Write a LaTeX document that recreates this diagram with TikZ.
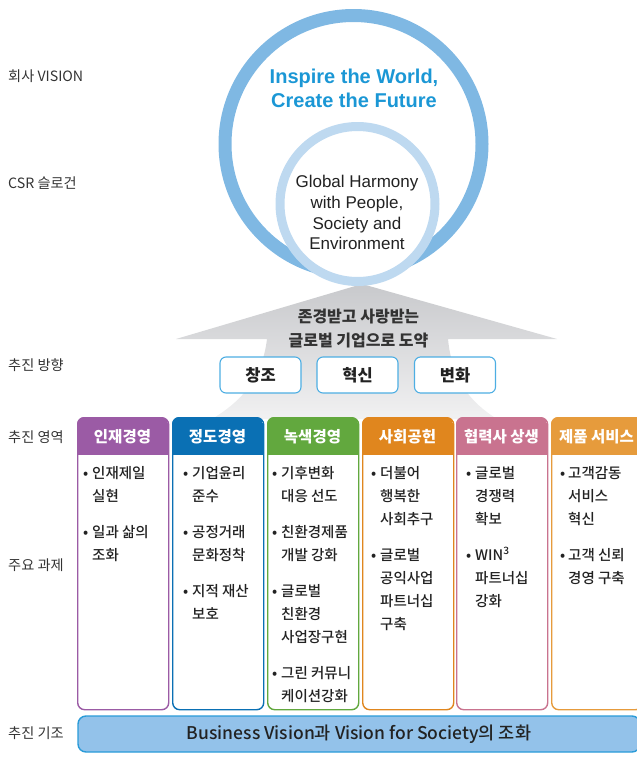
\documentclass[tikz,border=0pt]{standalone}
\usepackage{fontspec}
\setmainfont{Noto Sans CJK KR}
\newfontfamily\medfont{Noto Sans CJK KR Medium}
\newfontfamily\latfont{Liberation Sans}
\definecolor{ringdark}{HTML}{7FB8E3}
\definecolor{ringlight}{HTML}{BED9F0}
\definecolor{vision}{HTML}{1B97D5}
\definecolor{txt}{HTML}{222222}
\definecolor{lbl}{HTML}{333333}
\definecolor{cpurple}{HTML}{9B5BA5}
\definecolor{cblue}{HTML}{0A70B4}
\definecolor{cgreen}{HTML}{62A83E}
\definecolor{corange}{HTML}{E0861E}
\definecolor{cpink}{HTML}{C9738F}
\definecolor{clorange}{HTML}{E69B3C}
\definecolor{boxline}{HTML}{4DAEE3}
\definecolor{barfill}{HTML}{93C2EA}
\definecolor{barline}{HTML}{2A9BD8}
\definecolor{arrtop}{HTML}{C8C9CC}
\definecolor{arrbot}{HTML}{F1F1F2}
\tikzset{
  lefttext/.style={anchor=west, inner sep=0pt, text=lbl, font=\fontsize{14.2}{16}\selectfont},
  dirbox/.style={draw=boxline, line width=1.1pt, rounded corners=6pt, fill=white,
    minimum width=81pt, minimum height=36pt, inner sep=0pt, text=txt,
    font=\bfseries\fontsize{16.5}{19}\selectfont},
  colbox/.style={minimum width=91pt, minimum height=292pt, rounded corners=7pt,
    line width=1.4pt, fill=white, inner sep=0pt},
  headtext/.style={text=white, inner sep=0pt, font=\bfseries\fontsize{15.5}{18}\selectfont},
  bodytext/.style={anchor=base west, inner sep=0pt, text=txt, font=\medfont\fontsize{14.5}{23}\selectfont},
  vistext/.style={anchor=base, inner sep=0pt, text=vision, font=\latfont\bfseries\fontsize{20}{24}\selectfont},
  slogtext/.style={anchor=base, inner sep=0pt, text=txt, font=\latfont\fontsize{17}{21}\selectfont},
  arrtext/.style={anchor=base, inner sep=0pt, text=lbl, font=\bfseries\fontsize{16}{20}\selectfont}
}
\newcommand\pillar[4]{%
  \pgfmathsetmacro\pxr{#2+91}%
  \pgfmathsetmacro\pxc{#2+45.5}%
  \node[colbox, draw=#3, anchor=north west] (#1) at (#2,417) {};
  \begin{scope}
    \clip[rounded corners=7pt] (#2,417) rectangle (\pxr,709);
    \fill[#3] (#2,417) rectangle (\pxr,455);
  \end{scope}
  \node[headtext] (#1h) at (\pxc,436.5) {#4};
}
\newcommand\bl[4]{\node[bodytext] (#1) at (#2,#3) {#4};}
\newcommand\bu[3]{\node[bodytext] (#1) at (#2,#3) {•};}
\begin{document}
\begin{tikzpicture}[x=1pt,y=-1pt]
\useasboundingbox (0,0) rectangle (637,758);
% gray arrow
\shade[top color=arrtop, bottom color=arrbot]
  (362,284) -- (557,339) -- (448,339)
  .. controls (452,380) and (470,402) .. (497,419)
  -- (212,419)
  .. controls (240,402) and (262,380) .. (267,339)
  -- (176,339) -- cycle;
% circles
\node[circle, draw=ringdark, line width=13pt, minimum size=257pt, inner sep=0pt] (visionring) at (353.5,144) {};
\node[circle, draw=ringlight, fill=white, line width=9pt, minimum size=155pt, inner sep=0pt] (sloganring) at (357.5,204) {};
\node[vistext] (vis1) at (354,83) {Inspire the World,};
\node[vistext] (vis2) at (354,107) {Create the Future};
\node[slogtext] (slo1) at (357,187) {Global Harmony};
\node[slogtext] (slo2) at (357,208) {with People,};
\node[slogtext] (slo3) at (357,229) {Society and};
\node[slogtext] (slo4) at (357,249) {Environment};
% arrow text
\node[arrtext] (goal1) at (358.5,322) {존경받고 사랑받는};
\node[arrtext] (goal2) at (358.5,346) {글로벌 기업으로 도약};
% direction boxes
\node[dirbox] (d1) at (260.5,375) {창조};
\node[dirbox] (d2) at (357.5,375) {혁신};
\node[dirbox] (d3) at (455,375) {변화};
% left labels
\node[lefttext] (l1) at (8,76) {회사 VISION};
\node[lefttext] (l2) at (8,183) {CSR 슬로건};
\node[lefttext] (l3) at (8,365) {추진 방향};
\node[lefttext] (l4) at (8,437) {추진 영역};
\node[lefttext] (l5) at (8,565) {주요 과제};
\node[lefttext] (l6) at (8,733) {추진 기조};
% pillars
\pillar{c1}{77}{cpurple}{인재경영}
\pillar{c2}{172}{cblue}{정도경영}
\pillar{c3}{267}{cgreen}{녹색경영}
\pillar{c4}{362}{corange}{사회공헌}
\pillar{c5}{456}{cpink}{협력사 상생}
\pillar{c6}{551}{clorange}{제품 서비스}
% column 1
\bu{c1u1}{83}{478}\bl{c1a}{92}{478}{인재제일}\bl{c1b}{92}{501}{실현}
\bu{c1u2}{83}{537}\bl{c1c}{92}{537}{일과 삶의}\bl{c1d}{92}{560}{조화}
% column 2
\bu{c2u1}{183}{478}\bl{c2a}{192}{478}{기업윤리}\bl{c2b}{192}{501}{준수}
\bu{c2u2}{183}{537}\bl{c2c}{192}{537}{공정거래}\bl{c2d}{192}{560}{문화정착}
\bu{c2u3}{183}{596}\bl{c2e}{192}{596}{지적 재산}\bl{c2f}{192}{619}{보호}
% column 3
\bu{c3u1}{272}{478}\bl{c3a}{281}{478}{기후변화}\bl{c3b}{281}{501}{대응 선도}
\bu{c3u2}{272}{537}\bl{c3c}{281}{537}{친환경제품}\bl{c3d}{281}{560}{개발 강화}
\bu{c3u3}{272}{596}\bl{c3e}{281}{596}{글로벌}\bl{c3f}{281}{619}{친환경}\bl{c3g}{281}{642}{사업장구현}
\bu{c3u4}{272}{678}\bl{c3h}{281}{678}{그린 커뮤니}\bl{c3i}{281}{701}{케이션강화}
% column 4
\bu{c4u1}{371}{478}\bl{c4a}{380}{478}{더불어}\bl{c4b}{380}{501}{행복한}\bl{c4c}{380}{524}{사회추구}
\bu{c4u2}{371}{560}\bl{c4d}{380}{560}{글로벌}\bl{c4e}{380}{583}{공익사업}\bl{c4f}{380}{606}{파트너십}\bl{c4g}{380}{629}{구축}
% column 5
\bu{c5u1}{466}{478}\bl{c5a}{475}{478}{글로벌}\bl{c5b}{475}{501}{경쟁력}\bl{c5c}{475}{524}{확보}
\bu{c5u2}{466}{560}\bl{c5d}{475}{560}{WIN\textsuperscript{3}}\bl{c5e}{475}{583}{파트너십}\bl{c5f}{475}{606}{강화}
% column 6
\bu{c6u1}{560}{478}\bl{c6a}{568}{478}{고객감동}\bl{c6b}{568}{501}{서비스}\bl{c6c}{568}{524}{혁신}
\bu{c6u2}{560}{560}\bl{c6d}{568}{560}{고객 신뢰}\bl{c6e}{568}{583}{경영 구축}
% base bar
\node[draw=barline, fill=barfill, line width=1.4pt, rounded corners=8pt,
  minimum width=562pt, minimum height=36pt, inner sep=0pt, text=txt,
  font=\medfont\fontsize{17.5}{20}\selectfont] (base) at (359,734)
  {Business Vision과 Vision for Society의 조화};
\end{tikzpicture}
\end{document}
